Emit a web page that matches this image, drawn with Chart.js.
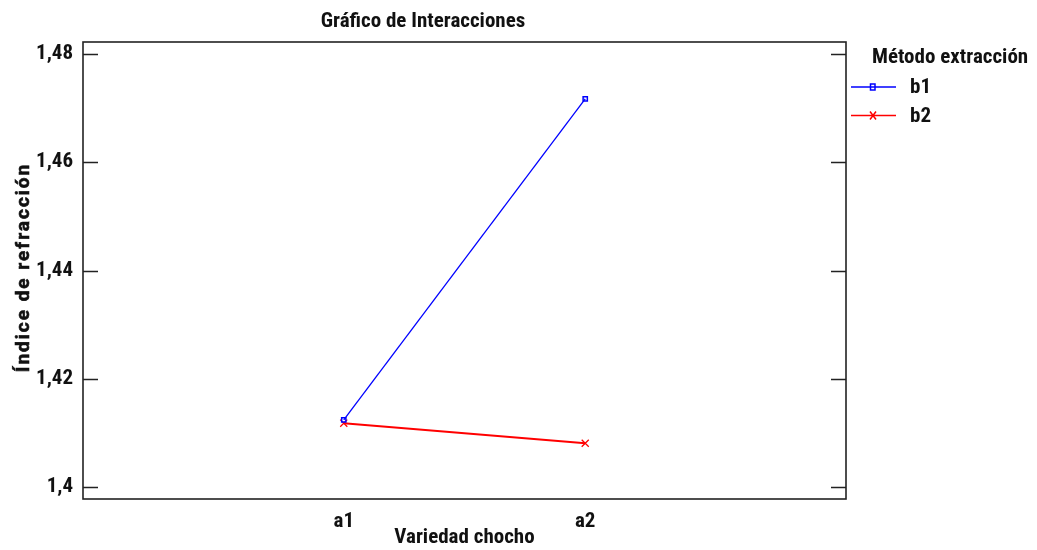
<!DOCTYPE html>
<html>
<head>
<meta charset="utf-8">
<script src="https://cdn.jsdelivr.net/npm/chart.js@4/dist/chart.umd.min.js"></script>
<style>
  html, body { margin: 0; padding: 0; background: #fff; }
  #wrap { width: 1037px; height: 550px; }
</style>
</head>
<body>
<div id="wrap"><canvas id="c"></canvas></div>
<script>
const FAMILY = "'Roboto Condensed','Arial Narrow','Liberation Sans',sans-serif"
const WIDE = "Roboto,'Liberation Sans',Arial,sans-serif"

// categories on the x axis and the two extraction methods
const categories = ['a1', 'a2']
const seriesNames = ['b1', 'b2']
const b1Values = [1.4124, 1.4717]
const b2Values = [1.4118, 1.4081]
const yTicks = [1.40, 1.42, 1.44, 1.46, 1.48]

const COLORS = ['#0000ff', '#ff0000']
const fmt = v => String(+v.toFixed(2)).replace('.', ',')

const toPoints = vals => vals.map((v, i) => ({ x: i + 1, y: v }))

// frame, inward ticks, rotated y title and legend
const decor = {
  id: 'decor',
  afterDraw (chart) {
    const { ctx, chartArea: a, scales } = chart
    ctx.save()
    ctx.strokeStyle = '#222'
    ctx.lineWidth = 1.6
    ctx.strokeRect(a.left, a.top, a.right - a.left, a.bottom - a.top)
    yTicks.forEach(t => {
      const y = Math.round(scales.y.getPixelForValue(t)) + 0.5
      ctx.beginPath()
      ctx.moveTo(a.left, y); ctx.lineTo(a.left + 15, y)
      ctx.moveTo(a.right, y); ctx.lineTo(a.right - 15, y)
      ctx.stroke()
    })

    // y axis title, spaced out
    ctx.fillStyle = '#111'
    ctx.strokeStyle = '#111'
    ctx.lineWidth = 0.6
    ctx.font = `bold 19px ${WIDE}`
    ctx.letterSpacing = '2px'
    ctx.translate(24, (a.top + a.bottom) / 2 - 3)
    ctx.rotate(-Math.PI / 2)
    ctx.textAlign = 'center'
    ctx.textBaseline = 'middle'
    ctx.fillText('Índice de refracción', 0, 0)
    ctx.strokeText('Índice de refracción', 0, 0)
    ctx.setTransform(1, 0, 0, 1, 0, 0)
    ctx.letterSpacing = '0px'

    // legend
    ctx.textAlign = 'left'
    ctx.font = `bold 21px ${FAMILY}`
    ctx.fillText('Método extracción', 872, 58)
    chart.data.datasets.forEach((ds, i) => {
      const y = 87 + i * 28.5
      ctx.strokeStyle = ds.borderColor
      ctx.lineWidth = 1.6
      ctx.beginPath(); ctx.moveTo(851, y); ctx.lineTo(896, y); ctx.stroke()
      ctx.lineWidth = 1.5
      if (i === 0) {
        ctx.strokeRect(870.5, y - 3, 4.5, 6)
      } else {
        ctx.beginPath()
        ctx.moveTo(870, y - 4); ctx.lineTo(876, y + 4)
        ctx.moveTo(876, y - 4); ctx.lineTo(870, y + 4)
        ctx.stroke()
      }
      ctx.fillStyle = '#111'
      ctx.font = `bold 21px ${FAMILY}`
      ctx.fillText(ds.label, 910, y + 1)
    })
    ctx.restore()
  }
}

new Chart(document.getElementById('c'), {
  type: 'line',
  data: {
    datasets: [
      {
        label: seriesNames[0], data: toPoints(b1Values),
        borderColor: COLORS[0], backgroundColor: 'transparent', borderWidth: 1.3,
        pointStyle: 'rect', pointRadius: 3, pointBorderWidth: 1.5, pointBorderColor: COLORS[0]
      },
      {
        label: seriesNames[1], data: toPoints(b2Values),
        borderColor: COLORS[1], backgroundColor: 'transparent', borderWidth: 2,
        pointStyle: 'crossRot', pointRadius: 5, pointBorderWidth: 1.3, pointBorderColor: COLORS[1]
      }
    ]
  },
  options: {
    responsive: true, maintainAspectRatio: false, animation: false,
    layout: { padding: { top: 0, right: 191, bottom: 0, left: 0 } },
    plugins: {
      legend: { display: false },
      tooltip: { enabled: false },
      title: {
        display: true, text: 'Gráfico de Interacciones', color: '#111',
        font: { size: 21, weight: 'bold', family: FAMILY, lineHeight: 1.2 },
        padding: { top: 9, bottom: 7.8 }
      }
    },
    scales: {
      x: {
        type: 'linear', min: -0.08, max: 3.08,
        afterBuildTicks: s => { s.ticks = categories.map((c, i) => ({ value: i + 1 })) },
        afterFit: s => { s.height = 51 },
        grid: { display: false, drawTicks: false },
        border: { display: false },
        ticks: {
          color: '#111', padding: 10,
          font: { size: 21, weight: 'bold', family: FAMILY },
          callback: v => categories[v - 1]
        },
        title: {
          display: true, text: 'Variedad chocho', color: '#111',
          font: { size: 21, weight: 'bold', family: FAMILY, lineHeight: 1.2 },
          padding: { top: 0, bottom: 0 }
        }
      },
      y: {
        min: 1.3978, max: 1.4822,
        afterBuildTicks: s => { s.ticks = yTicks.map(v => ({ value: v })) },
        afterFit: s => { s.width = 83 },
        grid: { display: false, drawTicks: false },
        border: { display: false },
        ticks: {
          color: '#111', padding: 10,
          font: { size: 21, weight: 'bold', family: FAMILY },
          callback: v => fmt(v)
        }
      }
    }
  },
  plugins: [decor]
})
</script>
</body>
</html>
